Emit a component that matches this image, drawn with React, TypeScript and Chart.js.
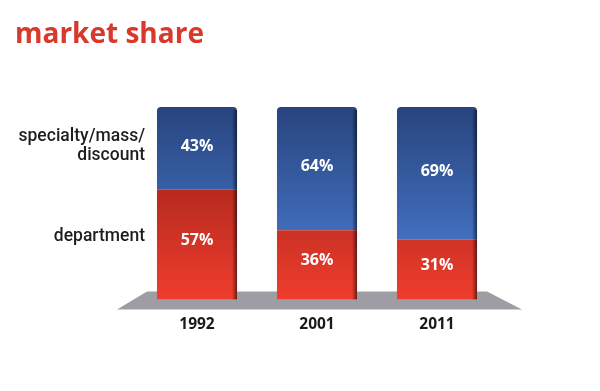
import React, { useEffect, useRef } from "react";
import { Chart, registerables } from "chart.js";
Chart.register(...registerables);

const years = ["1992", "2001", "2011"];
const department = [57, 36, 31];
const specialty = [43, 64, 69];
const seriesNames = ["department", "specialty/mass/discount"];
const sideLabels = [["department"], ["specialty/mass/", "discount"]];
const titleText = "market share";

const decor = {
  id: "decor",
  beforeDatasetsDraw(chart: any) {
    const { ctx, chartArea: a, scales } = chart;
    const base = scales.y.getPixelForValue(0);
    ctx.save();
    ctx.beginPath();
    ctx.moveTo(a.left + 10, base - 8);
    ctx.lineTo(a.right - 10, base - 8);
    ctx.lineTo(a.right + 25, base + 10);
    ctx.lineTo(a.left - 20, base + 10);
    ctx.closePath();
    ctx.fillStyle = "#9d9da3";
    ctx.fill();
    ctx.restore();
  },
  afterDatasetsDraw(chart: any) {
    const { ctx } = chart;
    ctx.save();
    // right-edge shading for 3D look
    chart.data.datasets.forEach((_: any, di: number) => {
      const meta = chart.getDatasetMeta(di);
      meta.data.forEach((el: any) => {
        const p = el.getProps(["x", "y", "base", "width"], true);
        const right = p.x + p.width / 2;
        const top = Math.min(p.y, p.base) + (di === 1 ? 3 : 0);
        const h = Math.abs(p.base - p.y) - (di === 1 ? 3 : 0);
        const g = ctx.createLinearGradient(right - 5, 0, right, 0);
        g.addColorStop(0, "rgba(0,0,0,0)");
        g.addColorStop(1, "rgba(0,0,0,0.55)");
        ctx.fillStyle = g;
        ctx.fillRect(right - 5, top, 5, h);
      });
    });
    // value labels
    ctx.fillStyle = "#ffffff";
    ctx.font = "bold 16px 'Open Sans'";
    ctx.textAlign = "center";
    ctx.textBaseline = "middle";
    chart.data.datasets.forEach((ds: any, di: number) => {
      const meta = chart.getDatasetMeta(di);
      meta.data.forEach((el: any, i: number) => {
        const p = el.getProps(["x", "y", "base"], true);
        ctx.fillText(ds.data[i] + "%", p.x, (p.y + p.base) / 2 - (di === 0 ? 4 : 2));
      });
    });
    // side labels aligned to first bar
    ctx.fillStyle = "#1e1e1e";
    ctx.font = "500 17.5px Roboto";
    ctx.textAlign = "right";
    chart.data.datasets.forEach((_: any, di: number) => {
      const el = chart.getDatasetMeta(di).data[0];
      const p = el.getProps(["x", "y", "base", "width"], true);
      const lines = sideLabels[di];
      const cy = (p.y + p.base) / 2 - (di === 0 ? 8 : 2);
      const lh = 19;
      lines.forEach((t: string, k: number) => {
        ctx.fillText(t, p.x - p.width / 2 - 12, cy + (k - (lines.length - 1) / 2) * lh);
      });
    });
    // title
    ctx.fillStyle = "#d8392b";
    ctx.font = "bold 28px 'Open Sans'";
    ctx.textAlign = "left";
    ctx.textBaseline = "alphabetic";
    ctx.fillText(titleText, 15, 43);
    ctx.restore();
  },
};

function grad(ctx: any, area: any, top: string, bottom: string) {
  const g = ctx.createLinearGradient(0, area.top, 0, area.bottom);
  g.addColorStop(0, top);
  g.addColorStop(1, bottom);
  return g;
}

export default function App() {
  const ref = useRef<HTMLCanvasElement>(null);
  useEffect(() => {
    const chart = new Chart(ref.current as HTMLCanvasElement, {
      type: "bar",
      data: {
        labels: years,
        datasets: [
          {
            label: seriesNames[0],
            data: department,
            backgroundColor: (c: any) => {
              const a = c.chart.chartArea;
              if (!a) return "#d8392b";
              return grad(c.chart.ctx, a, "#8c1c14", "#ef3d2d");
            },
            borderWidth: 0,
          },
          {
            label: seriesNames[1],
            data: specialty,
            backgroundColor: (c: any) => {
              const a = c.chart.chartArea;
              if (!a) return "#3a5fa8";
              return grad(c.chart.ctx, a, "#28447e", "#4d82da");
            },
            borderWidth: 0,
            borderRadius: { topLeft: 4, topRight: 4, bottomLeft: 0, bottomRight: 0 },
            borderSkipped: false,
          },
        ],
      },
      options: {
        responsive: false,
        animation: false,
        layout: { padding: { top: 107, left: 137, right: 103, bottom: 41 } },
        plugins: { legend: { display: false }, tooltip: { enabled: false }, title: { display: false } },
        datasets: { bar: { categoryPercentage: 1, barPercentage: 0.667 } },
        scales: {
          x: {
            stacked: true,
            grid: { display: false, drawTicks: false },
            border: { display: false },
            ticks: { color: "#1a1a1a", font: { family: "'Open Sans'", weight: "bold", size: 15.5 }, padding: 16 },
          },
          y: { stacked: true, display: false, min: 0, max: 100 },
        },
      },
      plugins: [decor],
    } as any);
    return () => chart.destroy();
  }, []);
  return (
    <div style={{ position: "fixed", left: 0, top: 0, width: 600, height: 391, background: "#fff" }}>
      <canvas ref={ref} width={600} height={391} />
    </div>
  );
}
